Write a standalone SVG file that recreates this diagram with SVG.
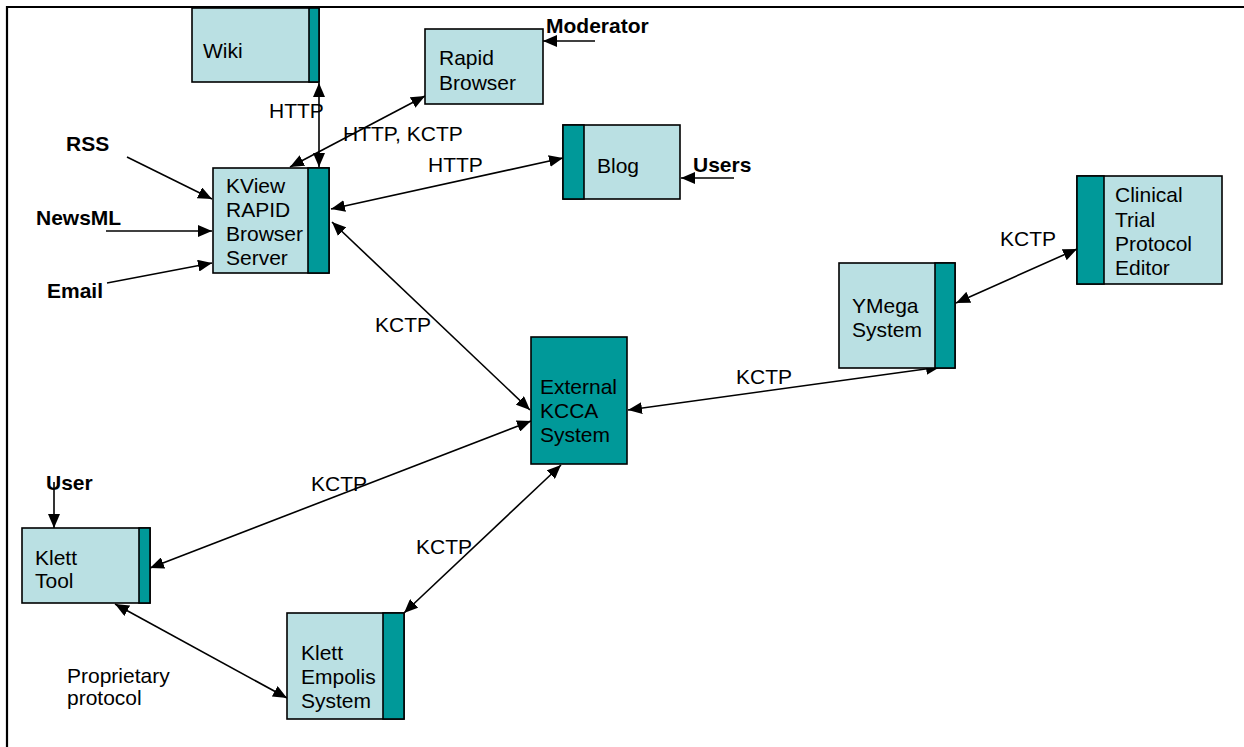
<svg xmlns="http://www.w3.org/2000/svg" width="1244" height="747" viewBox="0 0 1244 747">
  <style>
    .box { fill: #BAE0E3; stroke: #000; stroke-width: 1.6; }
    .bar { fill: #009999; stroke: #000; stroke-width: 1.6; }
    .lbl { font-family: "Liberation Sans", Arial, sans-serif; font-size: 21px; fill: #000; }
    .actor { font-family: "Liberation Sans", Arial, sans-serif; font-size: 21px; font-weight: bold; fill: #000; }
    .link { stroke: #000; stroke-width: 1.6; fill: none; }
    .one { marker-end: url(#head); }
    .two { marker-start: url(#tail); marker-end: url(#head); }
  </style>
  <defs>
    <marker id="head" viewBox="0 0 14 12" refX="14" refY="6" markerWidth="14" markerHeight="12" markerUnits="userSpaceOnUse" orient="auto">
      <path d="M0,0 L14,6 L0,12 Z" fill="#000"/>
    </marker>
    <marker id="tail" viewBox="0 0 14 12" refX="0" refY="6" markerWidth="14" markerHeight="12" markerUnits="userSpaceOnUse" orient="auto">
      <path d="M14,0 L0,6 L14,12 Z" fill="#000"/>
    </marker>
  </defs>

  <rect width="1244" height="747" fill="#fff"/>
  <!-- page frame -->
  <path d="M7,747 V7 H1244" fill="none" stroke="#000" stroke-width="2.2"/>

  <!-- connectors -->
  <g id="connectors">
    <line class="link two" x1="319" y1="83" x2="319" y2="167"/>
    <line class="link two" x1="290" y1="167" x2="425" y2="96"/>
    <line class="link two" x1="331" y1="209" x2="563" y2="158"/>
    <line class="link two" x1="332" y1="222" x2="530" y2="410"/>
    <line class="link two" x1="628" y1="410" x2="940" y2="367"/>
    <line class="link two" x1="956" y1="303" x2="1077" y2="249"/>
    <line class="link two" x1="150" y1="568" x2="531" y2="421"/>
    <line class="link two" x1="561" y1="465" x2="404" y2="613"/>
    <line class="link two" x1="115" y1="604" x2="287" y2="698"/>
    <!-- external actors -->
    <line class="link one" x1="595" y1="41" x2="543" y2="41"/>
    <line class="link one" x1="734" y1="178" x2="681" y2="178"/>
    <line class="link one" x1="127" y1="157" x2="212" y2="199"/>
    <line class="link one" x1="106" y1="231" x2="212" y2="231"/>
    <line class="link one" x1="107" y1="283" x2="212" y2="263"/>
    <line class="link one" x1="54" y1="482" x2="54" y2="528"/>

    <text class="lbl" x="269" y="118">HTTP</text>
    <text class="lbl" x="343" y="141">HTTP, KCTP</text>
    <text class="lbl" x="428" y="172">HTTP</text>
    <text class="lbl" x="375" y="332">KCTP</text>
    <text class="lbl" x="736" y="384">KCTP</text>
    <text class="lbl" x="1000" y="246">KCTP</text>
    <text class="lbl" x="311" y="491">KCTP</text>
    <text class="lbl" x="416" y="554">KCTP</text>
    <text class="lbl" x="67" y="683">Proprietary</text>
    <text class="lbl" x="67" y="705">protocol</text>
  </g>

  <!-- actors -->
  <g id="actor-moderator"><text class="actor" x="546" y="33">Moderator</text></g>
  <g id="actor-users"><text class="actor" x="693" y="172">Users</text></g>
  <g id="actor-rss"><text class="actor" x="66" y="151">RSS</text></g>
  <g id="actor-newsml"><text class="actor" x="36" y="225">NewsML</text></g>
  <g id="actor-email"><text class="actor" x="47" y="298">Email</text></g>
  <g id="actor-user"><text class="actor" x="46" y="490">User</text></g>

  <!-- systems -->
  <g id="wiki">
    <rect class="box" x="192" y="8" width="127" height="74"/>
    <rect class="bar" x="309" y="8" width="10" height="74"/>
    <text class="lbl" x="203" y="58">Wiki</text>
  </g>

  <g id="rapid-browser">
    <rect class="box" x="425" y="29" width="118" height="75"/>
    <text class="lbl" x="439" y="65">Rapid</text>
    <text class="lbl" x="439" y="90">Browser</text>
  </g>

  <g id="blog">
    <rect class="box" x="563" y="125" width="117" height="74"/>
    <rect class="bar" x="563" y="125" width="21" height="74"/>
    <text class="lbl" x="597" y="173">Blog</text>
  </g>

  <g id="kview-server">
    <rect class="box" x="213" y="168" width="116" height="105"/>
    <rect class="bar" x="308" y="168" width="21" height="105"/>
    <text class="lbl" x="226" y="193">KView</text>
    <text class="lbl" x="226" y="217">RAPID</text>
    <text class="lbl" x="226" y="241">Browser</text>
    <text class="lbl" x="226" y="265">Server</text>
  </g>

  <g id="clinical-editor">
    <rect class="box" x="1077" y="176" width="145" height="108"/>
    <rect class="bar" x="1077" y="176" width="27" height="108"/>
    <text class="lbl" x="1115" y="202">Clinical</text>
    <text class="lbl" x="1115" y="227">Trial</text>
    <text class="lbl" x="1115" y="251">Protocol</text>
    <text class="lbl" x="1115" y="275">Editor</text>
  </g>

  <g id="ymega">
    <rect class="box" x="839" y="263" width="116" height="105"/>
    <rect class="bar" x="935" y="263" width="20" height="105"/>
    <text class="lbl" x="852" y="313">YMega</text>
    <text class="lbl" x="852" y="337">System</text>
  </g>

  <g id="kcca">
    <rect class="bar" x="531" y="337" width="96" height="127"/>
    <text class="lbl" x="540" y="394">External</text>
    <text class="lbl" x="540" y="418">KCCA</text>
    <text class="lbl" x="540" y="442">System</text>
  </g>

  <g id="klett-tool">
    <rect class="box" x="22" y="528" width="128" height="75"/>
    <rect class="bar" x="139" y="528" width="11" height="75"/>
    <text class="lbl" x="35" y="565">Klett</text>
    <text class="lbl" x="35" y="588">Tool</text>
  </g>

  <g id="klett-empolis">
    <rect class="box" x="287" y="613" width="117" height="106"/>
    <rect class="bar" x="383" y="613" width="21" height="106"/>
    <text class="lbl" x="301" y="660">Klett</text>
    <text class="lbl" x="301" y="684">Empolis</text>
    <text class="lbl" x="301" y="708">System</text>
  </g>
</svg>
